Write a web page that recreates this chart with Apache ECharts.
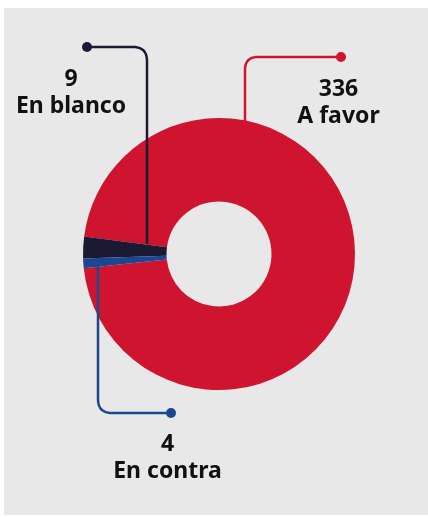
<!DOCTYPE html>
<html>
<head>
<meta charset="utf-8">
<script src="https://cdn.jsdelivr.net/npm/echarts@6/dist/echarts.min.js"></script>
<style>
  html, body { margin: 0; padding: 0; background: #ffffff; }
  #chart { width: 428px; height: 517px; }
</style>
</head>
<body>
<div id="chart"></div>
<script>
// Vote breakdown
const categories = ['A favor', 'En blanco', 'En contra'];
const votes = [336, 9, 4];
const colors = ['#cf1430', '#1c1a33', '#1a4790'];

// Label anchor (centre of the two-line label block) per category
const labelAnchors = [[338.5, 103], [71, 93], [167.5, 458]];

// Leader lines: dot end first, then corner, then the end inside the ring
const leaders = [
  { dot: [341, 57], corner: [245, 57], end: [245, 128], r: 13 },
  { dot: [87, 47], corner: [147, 47], end: [147, 244], r: 14 },
  { dot: [171, 413], corner: [98, 413], end: [98, 262], r: 14 }
];

// Build a polyline that turns a rounded right-angle corner
function roundedPath(a, c, b, r) {
  const pts = [a];
  const ux1 = Math.sign(a[0] - c[0]), uy1 = Math.sign(a[1] - c[1]);
  const ux2 = Math.sign(b[0] - c[0]), uy2 = Math.sign(b[1] - c[1]);
  const p1 = [c[0] + ux1 * r, c[1] + uy1 * r];
  const p2 = [c[0] + ux2 * r, c[1] + uy2 * r];
  const steps = 12;
  for (let i = 0; i <= steps; i++) {
    const t = i / steps;
    // quadratic Bezier through the corner point approximates the fillet
    const x = (1 - t) * (1 - t) * p1[0] + 2 * (1 - t) * t * c[0] + t * t * p2[0];
    const y = (1 - t) * (1 - t) * p1[1] + 2 * (1 - t) * t * c[1] + t * t * p2[1];
    pts.push([x, y]);
  }
  pts.push(b);
  return pts;
}

const graphics = [
  {
    type: 'rect',
    shape: { x: 4, y: 8, width: 424, height: 507 },
    style: { fill: '#e8e8e8' },
    z: -10
  }
];
leaders.forEach((l, i) => {
  graphics.push({
    type: 'polyline',
    shape: { points: roundedPath(l.dot, l.corner, l.end, l.r) },
    style: { stroke: colors[i], lineWidth: 2.5, fill: null },
    z: 10
  });
  graphics.push({
    type: 'circle',
    shape: { cx: l.dot[0], cy: l.dot[1], r: 5 },
    style: { fill: colors[i] },
    z: 11
  });
});

const chart = echarts.init(document.getElementById('chart'), null, { renderer: 'canvas' });
chart.setOption({
  animation: false,
  backgroundColor: '#ffffff',
  graphic: graphics,
  series: [{
    type: 'pie',
    center: [219, 254],
    radius: [52.5, 136],
    startAngle: 186,
    clockwise: false,
    avoidLabelOverlap: false,
    silent: true,
    z: 2,
    data: categories.map((name, i) => ({
      name: name,
      value: votes[i],
      itemStyle: { color: colors[i] }
    })),
    label: {
      show: true,
      position: 'outside',
      formatter: '{v|{c}}\n{n|{b}}',
      rich: {
        v: { fontFamily: 'Noto Sans', fontWeight: 'bold', fontSize: 23, lineHeight: 27, color: '#111111', align: 'center' },
        n: { fontFamily: 'Noto Sans', fontWeight: 'bold', fontSize: 23, lineHeight: 27, color: '#111111', align: 'center' }
      }
    },
    labelLine: { show: false },
    labelLayout: function (params) {
      const p = labelAnchors[params.dataIndex];
      return { x: p[0], y: p[1], align: 'center', verticalAlign: 'middle' };
    },
    emphasis: { disabled: true }
  }]
});
</script>
</body>
</html>
